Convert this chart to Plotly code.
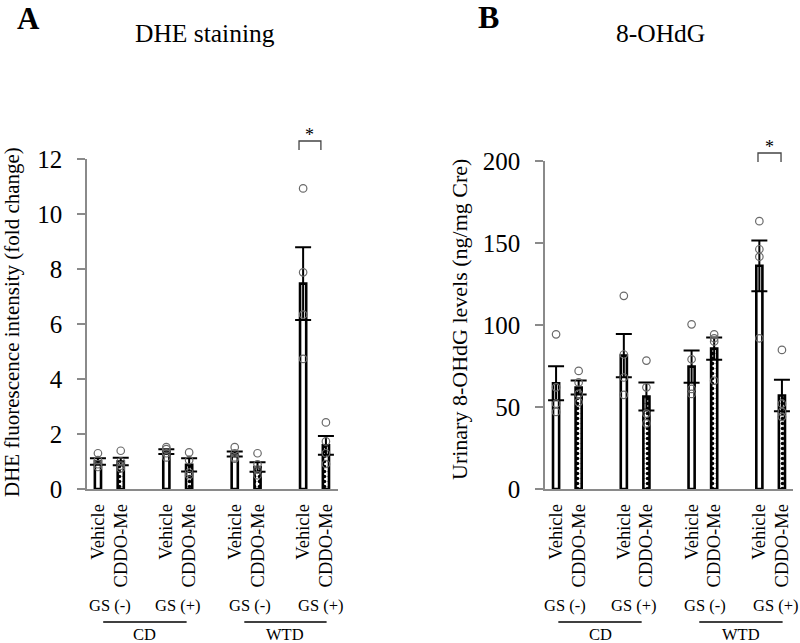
import plotly.graph_objects as go

# ---------------- data ----------------
treatments = ["Vehicle", "CDDO-Me"]
gs_labels = ["GS (-)", "GS (+)", "GS (-)", "GS (+)"]
diet_labels = ["CD", "WTD"]

# Panel A: DHE staining (fold change); order: CD GS-, CD GS+, WTD GS-, WTD GS+
dhe_vehicle_mean = [1.00, 1.36, 1.27, 7.47]
dhe_vehicle_sem = [0.12, 0.09, 0.09, 1.32]
dhe_cddo_mean = [1.00, 0.88, 0.80, 1.59]
dhe_cddo_sem = [0.14, 0.24, 0.17, 0.34]
dhe_vehicle_pts = [[1.30, 1.05, 0.90, 0.80], [1.52, 1.45, 1.30, 1.15],
                   [1.52, 1.30, 1.15, 1.10], [10.93, 7.88, 6.34, 4.73]]
dhe_cddo_pts = [[1.39, 1.00, 0.85, 0.75], [1.33, 1.05, 0.60, 0.50],
                [1.30, 0.90, 0.70, 0.50], [2.42, 1.73, 1.30, 0.91]]

# Panel B: urinary 8-OHdG (ng/mg Cre)
ohdg_vehicle_mean = [64.5, 81.3, 74.6, 136.1]
ohdg_vehicle_sem = [10.4, 13.2, 9.8, 15.5]
ohdg_cddo_mean = [61.9, 56.4, 85.6, 57.0]
ohdg_cddo_sem = [4.3, 8.6, 6.8, 9.6]
ohdg_vehicle_pts = [[94.3, 62.0, 52.0, 47.0], [117.8, 82.0, 68.0, 57.4],
                    [100.4, 79.1, 61.0, 58.0], [163.3, 146.2, 141.6, 91.9]]
ohdg_cddo_pts = [[72.0, 65.0, 58.0, 53.0], [78.3, 62.0, 46.0, 40.0],
                 [94.3, 91.9, 90.0, 66.0], [84.8, 52.0, 47.0, 44.0]]

# ---------------- layout constants ----------------
FONT = "Liberation Serif"
W, H = 800, 643
AXIS_GREY = "#8a8a8a"

group_idx = [0, 1, 2, 3]
veh_x = [3 * g for g in group_idx]
cddo_x = [3 * g + 1 for g in group_idx]
all_x = sorted(veh_x + cddo_x)
all_ticktext = treatments * 4


def py(px):
    return (H - px) / H


fig = go.Figure()

panels = [
    dict(xa="x", ya="y",
         vm=dhe_vehicle_mean, vs=dhe_vehicle_sem, cm=dhe_cddo_mean, cs=dhe_cddo_sem,
         vp=dhe_vehicle_pts, cp=dhe_cddo_pts),
    dict(xa="x2", ya="y2",
         vm=ohdg_vehicle_mean, vs=ohdg_vehicle_sem, cm=ohdg_cddo_mean, cs=ohdg_cddo_sem,
         vp=ohdg_vehicle_pts, cp=ohdg_cddo_pts),
]

BAR_W = 0.27
for p in panels:
    fig.add_trace(go.Bar(
        x=veh_x, y=p["vm"], width=BAR_W, xaxis=p["xa"], yaxis=p["ya"],
        marker=dict(color="white", line=dict(color="black", width=2.6)),
        error_y=dict(type="data", array=p["vs"], symmetric=True,
                     color="black", thickness=2, width=8),
        showlegend=False, name="Vehicle"))
    fig.add_trace(go.Bar(
        x=cddo_x, y=p["cm"], width=BAR_W, xaxis=p["xa"], yaxis=p["ya"],
        marker=dict(color="white", line=dict(color="black", width=2.6),
                    pattern=dict(shape=".", size=5, solidity=0.4,
                                 fgcolor="black", bgcolor="white")),
        error_y=dict(type="data", array=p["cs"], symmetric=True,
                     color="black", thickness=2, width=8),
        showlegend=False, name="CDDO-Me"))
    px_list, py_list = [], []
    for xs, pts in ((veh_x, p["vp"]), (cddo_x, p["cp"])):
        for xv, vals in zip(xs, pts):
            px_list += [xv] * len(vals)
            py_list += vals
    fig.add_trace(go.Scatter(
        x=px_list, y=py_list, mode="markers", xaxis=p["xa"], yaxis=p["ya"],
        marker=dict(symbol="circle-open", size=7.5, color="#6a6a6a",
                    line=dict(width=1.2, color="#6a6a6a")),
        showlegend=False, cliponaxis=False))

xcommon = dict(tickvals=all_x, ticktext=all_ticktext, tickangle=-90,
               tickfont=dict(family=FONT, size=18.5, color="black"),
               showline=True, linecolor=AXIS_GREY, linewidth=1.5,
               ticks="", showgrid=False, zeroline=False, automargin=False,
               ticklabelstandoff=6)
ycommon = dict(showline=True, linecolor=AXIS_GREY, linewidth=1.5,
               ticks="outside", ticklen=8, tickcolor=AXIS_GREY, tickwidth=1.5,
               tickfont=dict(family=FONT, size=25, color="black"),
               showgrid=False, zeroline=False, automargin=False,
               ticklabelstandoff=10)

fig.update_layout(
    template="none",
    width=W, height=H, autosize=False,
    margin=dict(l=0, r=0, t=0, b=0, pad=0),
    paper_bgcolor="white", plot_bgcolor="white",
    barmode="overlay",
    font=dict(family=FONT, color="black"),
    xaxis=dict(domain=[87 / W, 338 / W], range=[-0.48, 10.53], anchor="y", **xcommon),
    yaxis=dict(domain=[py(489), py(159)], range=[0, 12], dtick=2, anchor="x", **ycommon),
    xaxis2=dict(domain=[545 / W, 793 / W], range=[-0.49, 10.49], anchor="y2", **xcommon),
    yaxis2=dict(domain=[py(489), py(161)], range=[0, 200], dtick=50, anchor="x2", **ycommon),
)


def label(text, x, y, size, xref="paper", angle=0, bold=False, yanchor="middle"):
    return dict(text=f"<b>{text}</b>" if bold else text, x=x, y=y, xref=xref, yref="paper",
                xanchor="center", yanchor=yanchor, textangle=angle, showarrow=False,
                font=dict(family=FONT, size=size, color="black"))


ann = []
shapes = []
# panel letters and titles
ann.append(label("A", 29 / W, py(18), 31, bold=True))
ann.append(label("B", 488 / W, py(17), 32, bold=True))
ann.append(label("DHE staining", 205 / W, py(34), 25.5))
ann.append(label("8-OHdG", 660 / W, py(34), 25.5))
# y-axis titles
ann.append(label("DHE fluorescence intensity (fold change)", 12 / W, py(322), 21, angle=-90))
ann.append(label("Urinary 8-OHdG levels (ng/mg Cre)", 459 / W, py(320), 22, angle=-90))

# group labels below axes
gs_pos = {"x": [0.53, 3.5, 6.67, 9.8], "x2": [0.4, 3.45, 6.6, 9.73]}
diet_lines = {"x": [(0.23, 3.89), (6.42, 10.03)], "x2": [(0.10, 3.79), (6.34, 10.03)]}
brackets = {"x": ((8.82, 9.78), 141, 150, 130), "x2": ((8.94, 9.96), 153, 162, 142)}
for xa in ("x", "x2"):
    for lab, xv in zip(gs_labels, gs_pos[xa]):
        ann.append(label(lab, xv, py(605), 16.5, xref=xa))
    for lab, (x0, x1) in zip(diet_labels, diet_lines[xa]):
        shapes.append(dict(type="line", xref=xa, yref="paper", x0=x0, x1=x1,
                           y0=py(622), y1=py(622), line=dict(color="black", width=1.5)))
        ann.append(label(lab, (x0 + x1) / 2, py(634), 16.5, xref=xa))
    (bx0, bx1), ytop, ybot, ystar = brackets[xa]
    shapes.append(dict(type="path", xref=xa, yref="paper",
                       path=f"M {bx0},{py(ybot)} L {bx0},{py(ytop)} L {bx1},{py(ytop)} L {bx1},{py(ybot)}",
                       line=dict(color="#444444", width=1.3)))
    ann.append(label("*", (bx0 + bx1) / 2, py(ystar + 5), 18, xref=xa))

fig.update_layout(annotations=ann, shapes=shapes)
fig.write_html(
    "out.html",
    config={"displayModeBar": False},
    post_script="document.body.style.margin='0';document.body.style.overflow='hidden';",
)
